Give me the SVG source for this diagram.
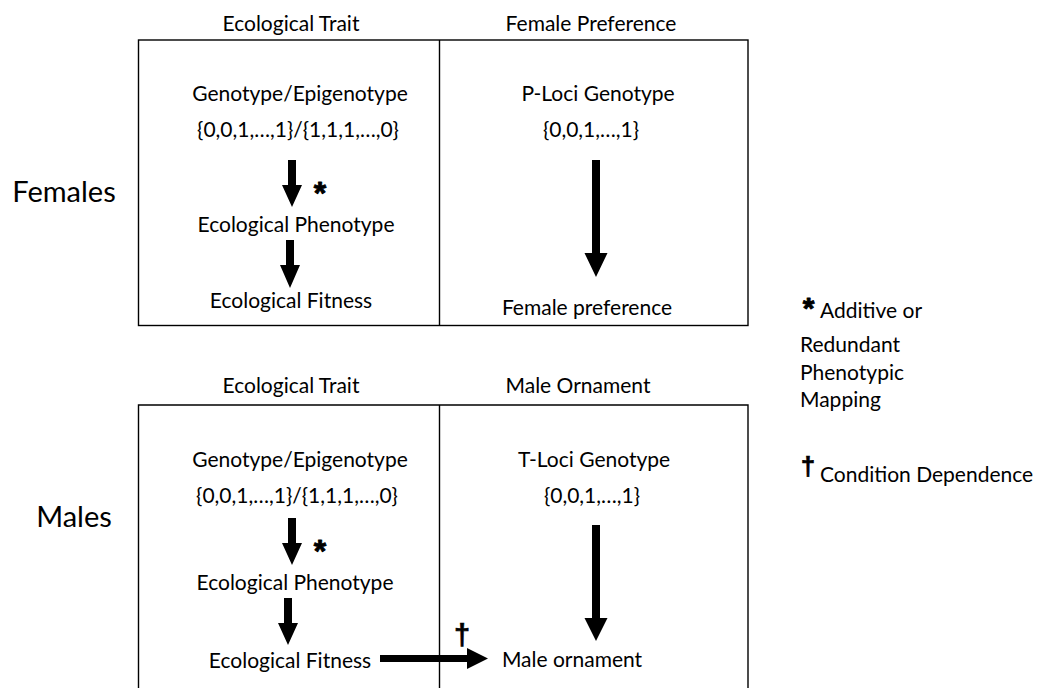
<svg xmlns="http://www.w3.org/2000/svg" width="1050" height="688" viewBox="0 0 1050 688">
<style>
text{font-family:Lato,"Liberation Sans",sans-serif;fill:#000}
.t{font-size:21px;text-anchor:middle}
.big{font-size:29px;text-anchor:middle}
.lg{font-size:21px}
.star{font-family:"Liberation Sans",sans-serif;font-weight:bold;text-anchor:middle;stroke:#000;stroke-width:0.9;stroke-linejoin:round}
.dag{font-family:"Liberation Sans",sans-serif;font-weight:bold;text-anchor:middle;stroke:#000;stroke-width:0.6}
.box{fill:none;stroke:#000;stroke-width:1.4}
.arr{fill:#000;stroke:none}
</style>
<rect width="1050" height="688" fill="#fff"/>
<g id="row-labels">
<text class="big" x="64" y="202">Females</text>
<text class="big" x="74" y="527">Males</text>
</g>
<g id="females-box">
<rect class="box" x="138.5" y="40" width="609.5" height="285.5"/>
<line class="box" x1="439.5" y1="40" x2="439.5" y2="325.5"/>
</g>
<g id="males-box">
<path class="box" d="M138.5,689 V405 H748 V689"/>
<line class="box" x1="439.5" y1="405" x2="439.5" y2="689"/>
</g>
<g id="f-eco-header"><text class="t" x="291" y="31">Ecological Trait</text></g>
<g id="f-pref-header"><text class="t" x="591" y="31">Female Preference</text></g>
<g id="f-genotype"><text class="t" x="300" y="101">Genotype/Epigenotype</text><text class="t" x="298" y="137">{0,0,1,…,1}/{1,1,1,…,0}</text></g>
<g id="f-phenotype"><text class="t" x="296" y="232">Ecological Phenotype</text></g>
<g id="f-fitness"><text class="t" x="291" y="308">Ecological Fitness</text></g>
<g id="f-ploci"><text class="t" x="598" y="101">P-Loci Genotype</text><text class="t" x="591" y="137">{0,0,1,…,1}</text></g>
<g id="f-preference"><text class="t" x="587" y="315">Female preference</text></g>
<g id="m-eco-header"><text class="t" x="291" y="393">Ecological Trait</text></g>
<g id="m-orn-header"><text class="t" x="578" y="393">Male Ornament</text></g>
<g id="m-genotype"><text class="t" x="300" y="467">Genotype/Epigenotype</text><text class="t" x="297" y="503">{0,0,1,…,1}/{1,1,1,…,0}</text></g>
<g id="m-phenotype"><text class="t" x="295" y="590">Ecological Phenotype</text></g>
<g id="m-fitness"><text class="t" x="290" y="668">Ecological Fitness</text></g>
<g id="m-tloci"><text class="t" x="594" y="467">T-Loci Genotype</text><text class="t" x="592" y="503">{0,0,1,…,1}</text></g>
<g id="m-ornament"><text class="t" x="572" y="667">Male ornament</text></g>
<g id="connectors">
<polygon class="arr" points="288,160 296,160 296,185 302,185 292,207 282,185 288,185"/>
<polygon class="arr" points="286,240 294,240 294,265 300,265 290,288 280,265 286,265"/>
<polygon class="arr" points="592,160 600,160 600,253 607.5,253 596,277 584.5,253 592,253"/>
<polygon class="arr" points="288,518 296,518 296,543 302,543 292,565 282,543 288,543"/>
<polygon class="arr" points="284,598 292,598 292,623 298,623 288,645 278,623 284,623"/>
<polygon class="arr" points="592,525 600,525 600,618 607.5,618 596,641 584.5,618 592,618"/>
<polygon class="arr" points="380,655 467,655 467,648 488,658.5 467,669 467,662 380,662"/>
<text class="star" x="320" y="204" style="font-size:32px">*</text>
<text class="star" x="320" y="562" style="font-size:32px">*</text>
<text class="dag" x="462" y="645" style="font-size:29px">†</text>
</g>
<g id="legend">
<text class="star" x="808.5" y="318" style="font-size:30px">*</text>
<text class="lg" x="820" y="318">Additive or</text>
<text class="lg" x="800" y="352">Redundant</text>
<text class="lg" x="800" y="380">Phenotypic</text>
<text class="lg" x="800" y="407">Mapping</text>
<text class="dag" x="808" y="475" style="font-size:26px">†</text>
<text class="lg" x="820" y="482">Condition Dependence</text>
</g>
</svg>
